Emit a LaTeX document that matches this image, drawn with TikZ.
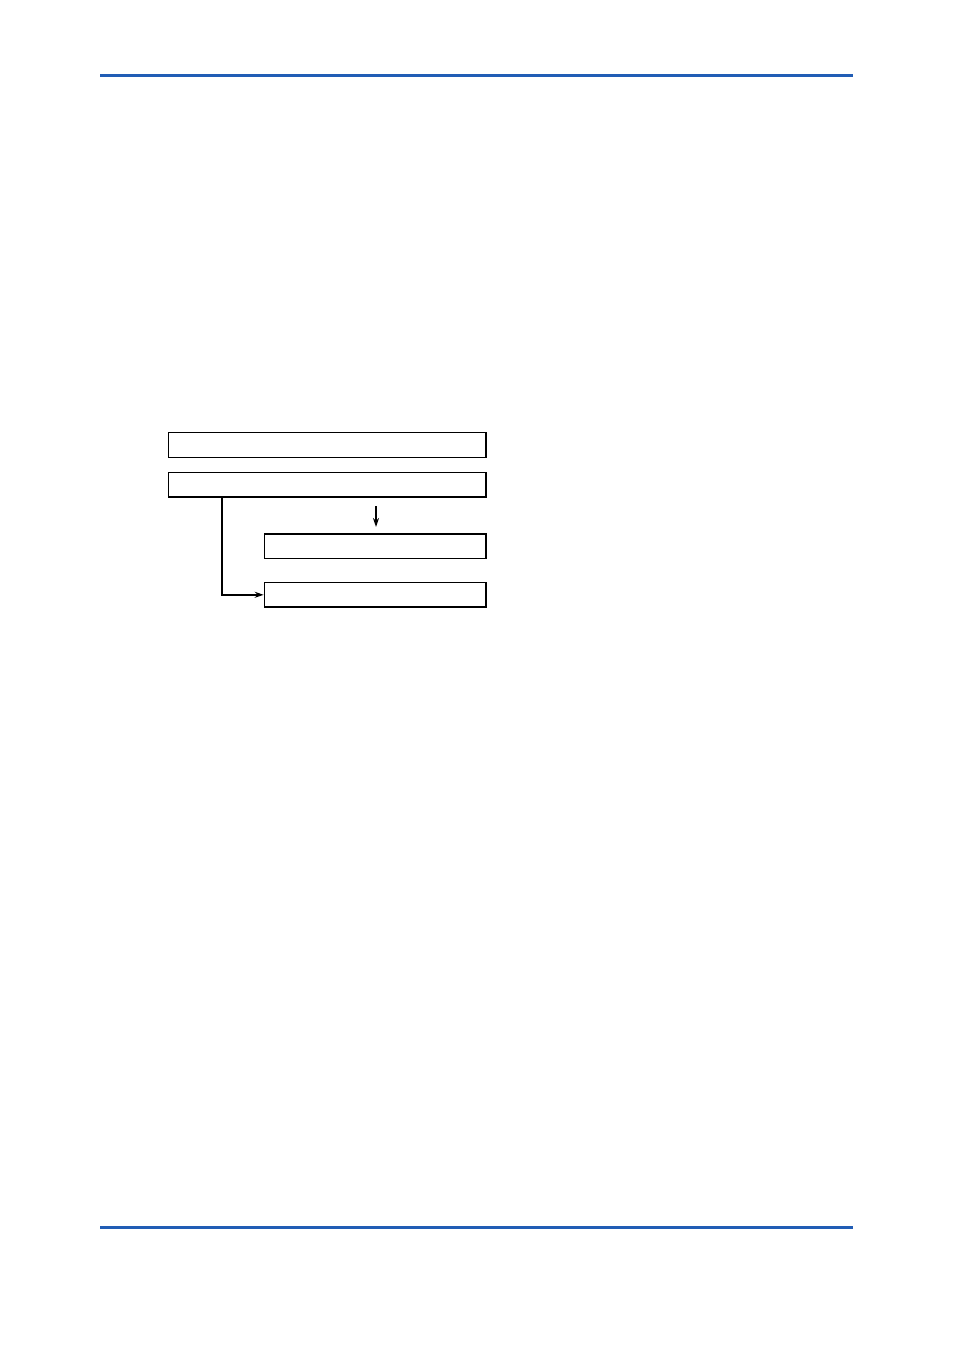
\documentclass[tikz,border=0pt]{standalone}
\usepackage{tikz}
\usetikzlibrary{positioning}
\usetikzlibrary{arrows.meta}
\definecolor{rulebl}{RGB}{33,93,181}
\tikzset{
    stepbox/.style = {rectangle, draw=black, line width=1.4pt, minimum height=24.6pt, inner sep=0pt},
    widebox/.style = {stepbox, minimum width=317.7pt},
    narrowbox/.style = {stepbox, minimum width=221.7pt},
    edgen/.style = {-{Stealth[length=9pt,width=6pt]}, line width=1.6pt},
    pagerule/.style = {rulebl, line width=3pt}
}
\begin{document}
\begin{tikzpicture}[x=1pt,y=-1pt]
  \useasboundingbox (0,0) rectangle (954,1350);
  \draw[pagerule] (100,75.5) -- (853,75.5);
  \draw[pagerule] (100,1227) -- (853,1227);

  \node[widebox] (top) at (327.2,445) {};
  \node[widebox] (main) at (327.2,484.8) {};
  \node[narrowbox] (first) at (375.2,546.2) {};
  \node[narrowbox] (second) at (375.2,594.8) {};

  \coordinate (dstart) at (376,506);
  \coordinate (dend) at (376,527);
  \coordinate (branch) at (221.7,484.8);
  \draw[edgen] (dstart) -- (dend);
  \draw[edgen] (branch |- main.south) |- (second.west);
\end{tikzpicture}
\end{document}
